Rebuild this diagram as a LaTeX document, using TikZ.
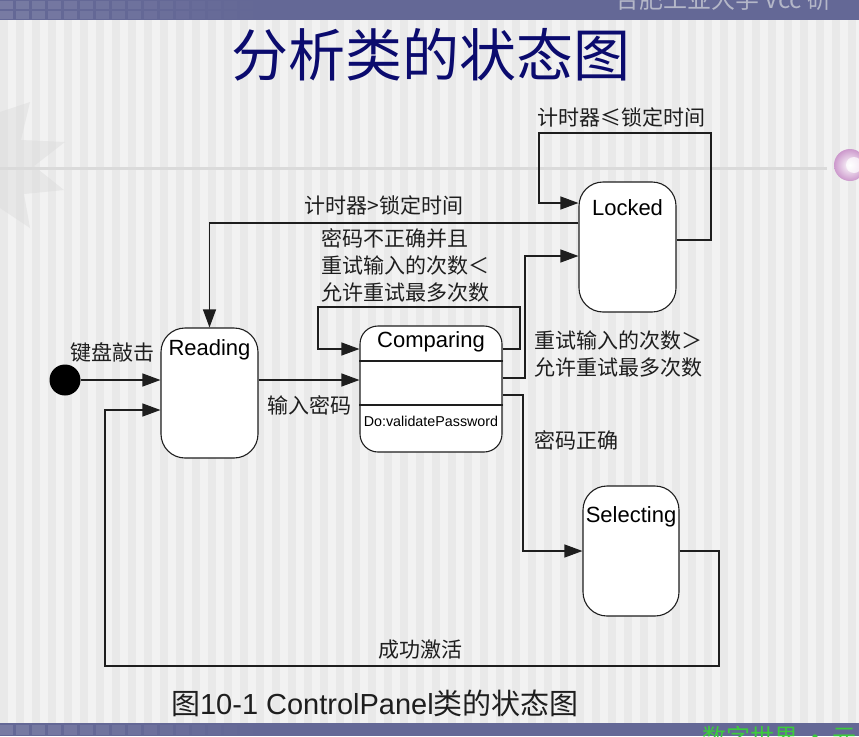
\documentclass[tikz,border=0pt]{standalone}
\usepackage{fontspec}
\setmainfont{Liberation Sans}
\newfontfamily\cjk{Noto Sans CJK SC}
\usetikzlibrary{arrows.meta}
\definecolor{band}{HTML}{646896}
\definecolor{titleblue}{HTML}{0B0B6E}
\definecolor{bg}{HTML}{F2F2F2}
\definecolor{stripe}{HTML}{E9E9E9}
\definecolor{ink}{HTML}{1E1E1E}
\definecolor{deco}{HTML}{DADADA}
\definecolor{greentext}{HTML}{3CCB3C}
\definecolor{hdrtext}{HTML}{B4B7C8}
\newcommand\cjklabel{\cjk\fontsize{21}{27}\selectfont}
\begin{document}
\begin{tikzpicture}[x=1pt,y=-1pt,
  state/.style={draw=ink, line width=1.1pt, fill=white, rounded corners=24pt,
    minimum width=97pt, minimum height=130pt, inner sep=0pt},
  statename/.style={font=\fontsize{22}{24}\selectfont, inner sep=0pt},
  conn/.style={draw=ink, line width=1.1pt},
  arr/.style={conn, -{Triangle[length=18pt,width=13pt]}},
  lbl/.style={font=\cjklabel, text=ink, inner sep=0pt},
]
\useasboundingbox (0,0) rectangle (859,736);
\clip (0,0) rectangle (859,736);

% slide background with faint vertical stripes
\fill[bg] (0,0) rectangle (859,736);
\foreach \i in {0,...,53} \fill[stripe] (\i*16,0) rectangle ++(8,736);

% header and footer bands
\fill[band] (0,0) rectangle (859,20);
\fill[band] (0,723) rectangle (859,736);
\foreach \i in {0,...,15} {
  \pgfmathsetmacro\op{0.13*(1-\i/16)}
  \fill[white, opacity=\op] (\i*16,1) rectangle ++(13,8);
  \fill[white, opacity=\op] (\i*16,11) rectangle ++(13,8);
  \fill[white, opacity=\op] (\i*16,725) rectangle ++(13,10);
}
\node[anchor=base west, inner sep=0pt, text=hdrtext,
  font=\cjk\fontsize{24}{24}\selectfont] (hdr) at (615,9) {合肥工业大学 Vcc 研};
\node[anchor=north west, inner sep=0pt, text=greentext,
  font=\cjk\fontsize{24}{24}\selectfont] (ftr) at (702,726) {数字世界 · 元};

% decorative rule, sphere and leaf shape
\fill[deco, opacity=0.45] (0,112) -- (30,102) -- (21,140) -- (65,142) -- (34,166)
  -- (64,190) -- (24,194) -- (30,228) -- (0,208) -- cycle;
\draw[line width=3pt, color=deco] (0,168) -- (827,168);
\shade[inner color=white, outer color=violet!40] (850,165) circle (16pt);
\fill[white, opacity=0.7] (854,165) circle (8pt);

% title
\node[text=titleblue, font=\cjk\fontsize{57}{57}\selectfont, inner sep=0pt]
  (title) at (431,55) {分析类的状态图};

% states
\node[state] (Reading) at (209.5,393) {};
\node[statename, anchor=north] (ReadingName) at (209.5,339) {Reading};

\node[state, minimum width=142pt, minimum height=126pt, rounded corners=18pt]
  (Comparing) at (431,389) {};
\node[statename, anchor=north] (ComparingName) at (431,331) {Comparing};
\draw[conn] ([yshift=28pt]Comparing.west) -- ([yshift=28pt]Comparing.east);
\draw[conn] ([yshift=-16pt]Comparing.west) -- ([yshift=-16pt]Comparing.east);
\node[inner sep=0pt, font=\fontsize{14.3}{16}\selectfont] (doact) at (431,421)
  {Do:validatePassword};

\node[state] (Locked) at (627.5,247) {};
\node[statename, anchor=north] (LockedName) at (627.5,199) {Locked};

\node[state, minimum width=96pt] (Selecting) at (631,551) {};
\node[statename, anchor=north] (SelectingName) at (631,506) {Selecting};

% initial pseudo-state
\node[circle, fill=black, minimum size=31pt, inner sep=0pt] (init) at (65,380) {};

% routing points
\coordinate (lk1) at (711,133);
\coordinate (lk2) at (539,133);
\coordinate (cl1) at (520,307);
\coordinate (cl2) at (318,307);
\coordinate (ck) at (525,256);
\coordinate (cs) at (523,551);
\coordinate (sb1) at (719,666);
\coordinate (sb2) at (105,666);

% transitions
\draw[arr] (init) -- (init -| Reading.west);
\draw[arr] ([yshift=13pt]Reading.east) -- ([yshift=9pt]Comparing.west);
\draw[arr] ([yshift=40pt]Comparing.east) -| (cl1) -- (cl2)
  |- ([yshift=40pt]Comparing.west);
\draw[arr] ([yshift=11pt]Comparing.east) -| (ck) -- (ck -| Locked.west);
\draw[arr] ([yshift=-6pt]Comparing.east) -| (cs) -- (Selecting.west);
\draw[arr] ([yshift=7pt]Locked.east) -| (lk1) -- (lk2)
  |- ([yshift=44pt]Locked.west);
\draw[arr] ([yshift=24pt]Locked.west) -| (Reading.north);
\draw[arr] (Selecting.east) -| (sb1) -- (sb2) |- ([yshift=-17pt]Reading.west);

% transition labels
\node[lbl] (tKey) at (112,352) {键盘敲击};
\node[lbl] (tInput) at (309,405) {输入密码};
\node[lbl] (tTimeout) at (384,205) {计时器>锁定时间};
\node[lbl, anchor=west, align=left] (tRetry) at (321,265)
  {密码不正确并且\\重试输入的次数＜\\允许重试最多次数};
\node[lbl] (tWait) at (621,117) {计时器≤锁定时间};
\node[lbl, anchor=west, align=left] (tLock) at (534,354)
  {重试输入的次数＞\\允许重试最多次数};
\node[lbl, anchor=west] (tOk) at (534,440) {密码正确};
\node[lbl] (tDone) at (420,650) {成功激活};

% caption
\node[inner sep=0pt, font=\fontsize{29}{30}\selectfont, text=ink] (caption) at (375,703)
  {{\cjk 图}10-1 ControlPanel{\cjk 类的状态图}};
\end{tikzpicture}
\end{document}
